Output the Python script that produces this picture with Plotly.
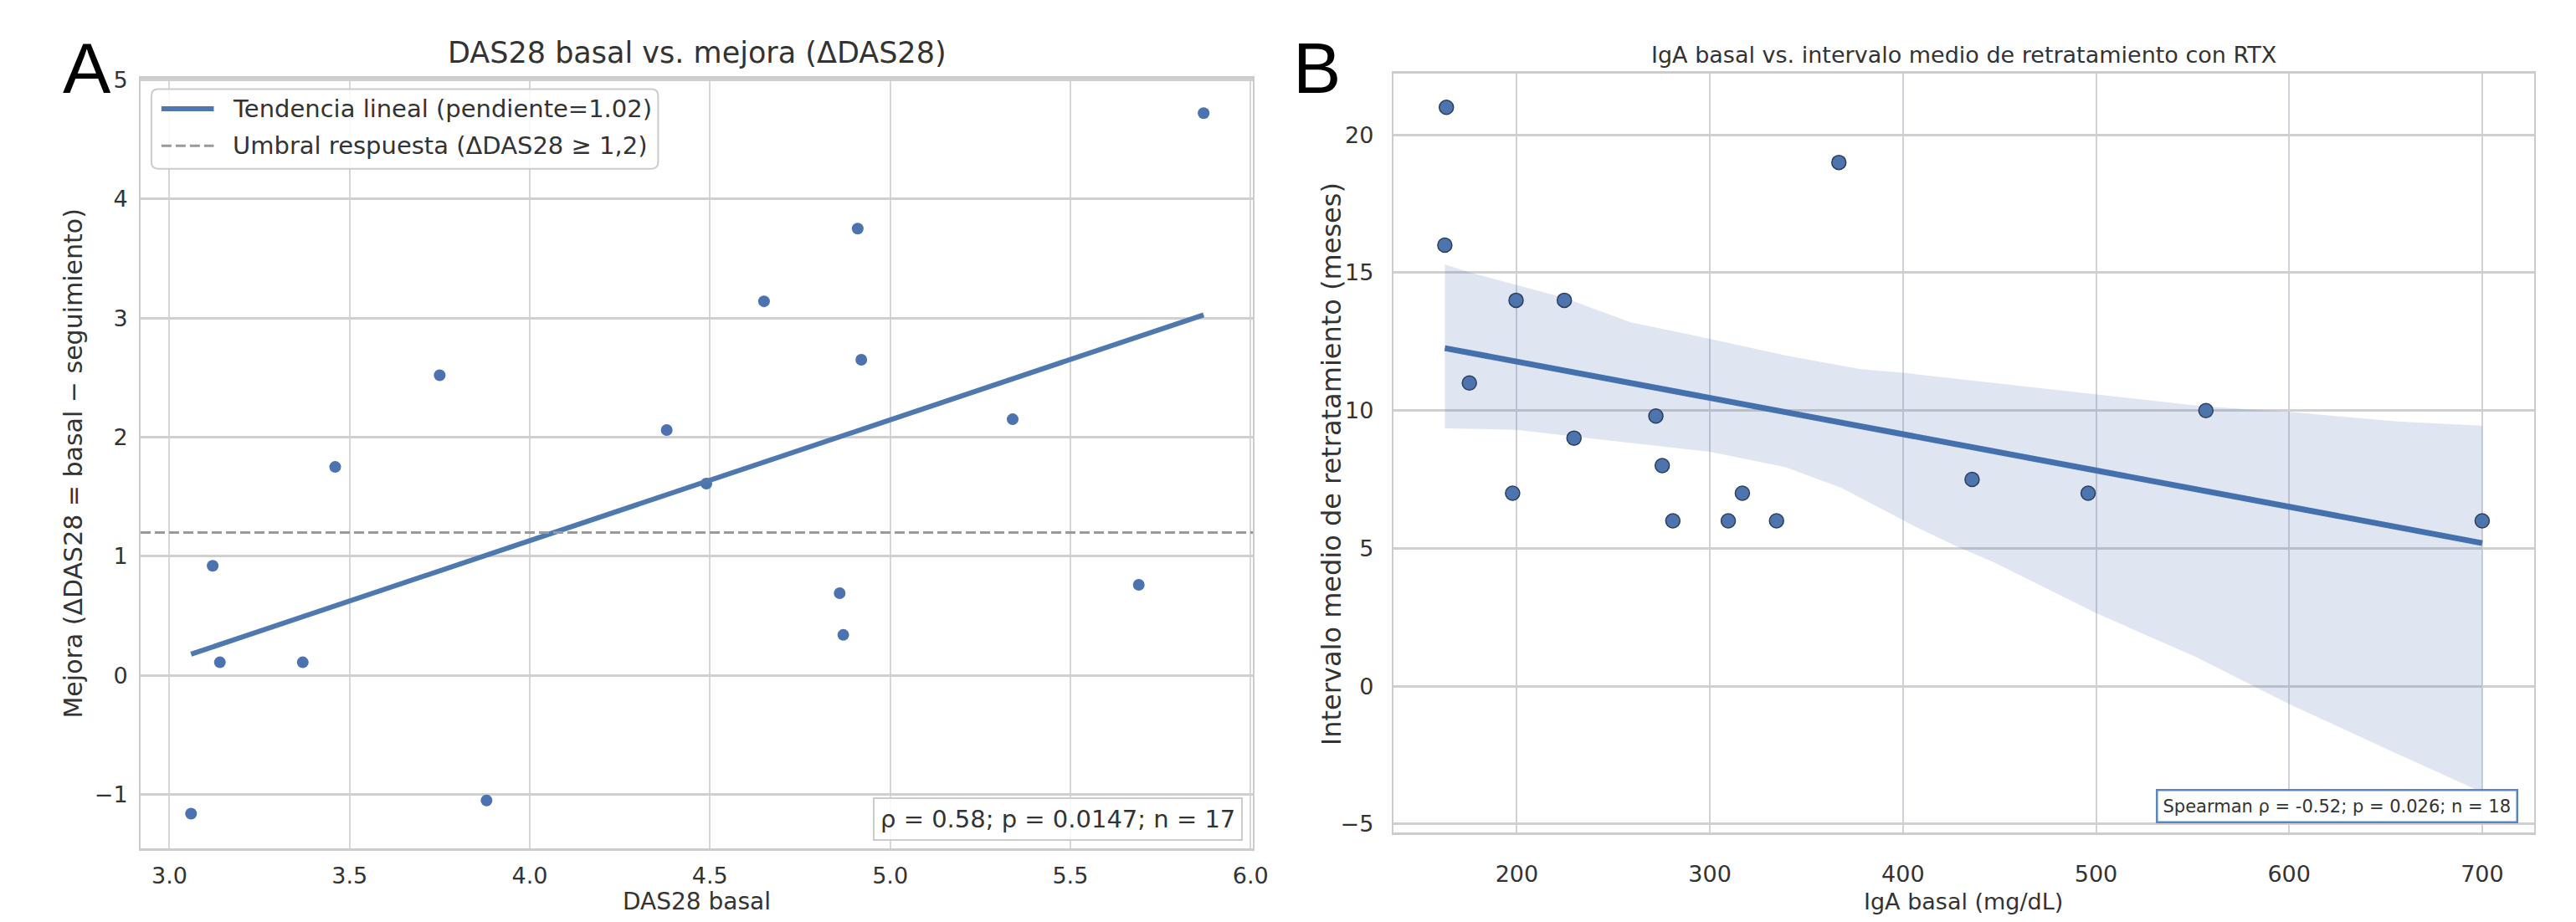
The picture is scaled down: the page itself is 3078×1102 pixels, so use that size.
import numpy as np
import plotly.graph_objects as go

# ---------------- Data ----------------
# Panel A: DAS28 basal vs mejora
das28_basal = [3.06, 3.12, 3.14, 3.37, 3.46, 3.75, 3.88, 4.38, 4.49, 4.65,
               4.86, 4.87, 4.91, 4.92, 5.34, 5.69, 5.87]
mejora_das28 = [-1.16, 0.92, 0.11, 0.11, 1.75, 2.52, -1.05, 2.06, 1.61, 3.14,
                0.69, 0.34, 3.75, 2.65, 2.15, 0.76, 4.72]
umbral_respuesta = 1.2

# Panel B: IgA basal vs intervalo medio de retratamiento
iga_basal = [163.5, 162.7, 175.4, 197.8, 199.6, 224.6, 229.6, 272.0, 275.3,
             280.8, 309.5, 316.8, 334.5, 366.8, 435.8, 495.9, 556.9, 700.0]
intervalo_meses = [21, 16, 11, 7, 14, 14, 9, 9.8, 8, 6, 6, 7, 6, 19, 7.5, 7, 10, 6]

# Confidence band of the regression in panel B
ci_upper_x = [162.7, 176, 200, 224, 259, 300, 339, 378, 400, 447, 485, 500, 556, 600, 656, 700]
ci_upper_y = [15.3, 15.0, 14.55, 14.1, 13.2, 12.6, 12.0, 11.5, 11.37, 11.0, 10.7, 10.6, 10.15, 9.95, 9.6, 9.45]
ci_lower_x = [162.7, 200, 243, 300, 339, 368, 406, 427, 447, 500, 552, 600, 656, 700]
ci_lower_y = [9.35, 9.3, 8.95, 8.5, 7.95, 7.2, 5.8, 5.1, 4.5, 2.65, 1.05, -0.65, -2.45, -3.85]

# Texts
title_a = "DAS28 basal vs. mejora (ΔDAS28)"
title_b = "IgA basal vs. intervalo medio de retratamiento con RTX"
xlabel_a = "DAS28 basal"
ylabel_a = "Mejora (ΔDAS28 = basal − seguimiento)"
xlabel_b = "IgA basal (mg/dL)"
ylabel_b = "Intervalo medio de retratamiento (meses)"
legend_trend = "Tendencia lineal (pendiente=1.02)"
legend_thresh = "Umbral respuesta (ΔDAS28 ≥ 1,2)"
stats_a = "ρ = 0.58; p = 0.0147; n = 17"
stats_b = "Spearman ρ = -0.52; p = 0.026; n = 18"

# ---------------- Figure ----------------
W, H = 3078, 1102
FONT = "DejaVu Sans"
TXT = "#333333"
BLUE = "#4c72b0"


def px(x):
    return x / W


def py(y):
    return 1 - y / H


def rrect(x0, y0, x1, y1, r):
    pts = [("M", x0 + r, y0), ("L", x1 - r, y0), ("Q", x1, y0, x1, y0 + r),
           ("L", x1, y1 - r), ("Q", x1, y1, x1 - r, y1), ("L", x0 + r, y1),
           ("Q", x0, y1, x0, y1 - r), ("L", x0, y0 + r), ("Q", x0, y0, x0 + r, y0)]
    out = []
    for p in pts:
        cmd = p[0]
        vals = p[1:]
        coords = []
        for i in range(0, len(vals), 2):
            coords.append(f"{px(vals[i]):.6f},{py(vals[i + 1]):.6f}")
        out.append(cmd + " ".join(coords))
    return " ".join(out) + " Z"


# regression lines from data
xa = np.array(das28_basal)
ya = np.array(mejora_das28)
sa, ia = np.polyfit(xa, ya, 1)
xa_line = np.array([xa.min(), xa.max()])
ya_line = sa * xa_line + ia

xb = np.array(iga_basal)
yb = np.array(intervalo_meses, dtype=float)
sb, ib = np.polyfit(xb, yb, 1)
xb_line = np.array([xb.min(), xb.max()])
yb_line = sb * xb_line + ib

fig = go.Figure()

# Panel A
fig.add_trace(go.Scatter(
    x=das28_basal, y=mejora_das28, mode="markers",
    marker=dict(color=BLUE, size=14, line=dict(width=0)),
    showlegend=False, xaxis="x", yaxis="y", hoverinfo="x+y"))
fig.add_trace(go.Scatter(
    x=xa_line, y=ya_line, mode="lines",
    line=dict(color="#4f79ae", width=6),
    name=legend_trend, showlegend=False,
    xaxis="x", yaxis="y"))
fig.add_shape(type="line", xref="x domain", x0=0, x1=1, yref="y",
              y0=umbral_respuesta, y1=umbral_respuesta,
              line=dict(color="#9a9a9a", width=3, dash="12px,5px"))

# Panel B
fig.add_trace(go.Scatter(
    x=ci_upper_x + ci_lower_x[::-1], y=ci_upper_y + ci_lower_y[::-1],
    mode="lines", fill="toself", fillcolor="rgba(76,114,176,0.18)",
    line=dict(width=0), showlegend=False, hoverinfo="skip",
    xaxis="x2", yaxis="y2"))
fig.add_trace(go.Scatter(
    x=xb_line, y=yb_line, mode="lines",
    line=dict(color="#4470ad", width=7),
    showlegend=False, xaxis="x2", yaxis="y2"))
fig.add_trace(go.Scatter(
    x=iga_basal, y=intervalo_meses, mode="markers",
    marker=dict(color="#4d74ad", size=17, line=dict(color="#2b3f5c", width=1.5)),
    showlegend=False, xaxis="x2", yaxis="y2", hoverinfo="x+y"))

grid_v = "#d6d6d6"
grid_h = "#d0d0d0"
edge = "#cccccc"

common = dict(showgrid=True, zeroline=False, showline=True, mirror=True,
              linecolor=edge, ticks="")

fig.update_layout(
    width=W, height=H, autosize=False,
    margin=dict(l=0, r=0, t=0, b=0),
    paper_bgcolor="white", plot_bgcolor="white",
    font=dict(family=FONT, color=TXT),
    showlegend=False,
    xaxis=dict(domain=[px(169), px(1506)], range=[2.92, 6.007], dtick=0.5,
               tick0=3.0, tickformat=".1f", gridcolor=grid_v, gridwidth=1.5,
               linewidth=3, tickfont=dict(size=27, color=TXT),
               ticklabelstandoff=6, anchor="y", **common),
    yaxis=dict(domain=[py(1018), py(81)], range=[-1.455, 5.012], dtick=1,
               gridcolor=grid_h, gridwidth=3, linewidth=2,
               tickfont=dict(size=27, color=TXT), ticklabelstandoff=8,
               anchor="x", **common),
    xaxis2=dict(domain=[px(1674.6), px(3046)], range=[136, 727], dtick=100,
                tick0=0, gridcolor="#cfd2d8", gridwidth=1.5, linewidth=3,
                tickfont=dict(size=27, color=TXT), ticklabelstandoff=24,
                anchor="y2", **common),
    yaxis2=dict(domain=[py(998), py(75)], range=[-5.3, 22.23], dtick=5,
                gridcolor=grid_h, gridwidth=3, linewidth=2,
                tickfont=dict(size=27, color=TXT), ticklabelstandoff=16,
                anchor="x2", **common),
)

# ---- legend of panel A (box, samples, labels) ----
fig.add_shape(type="path", xref="paper", yref="paper",
              path=rrect(182, 94, 791, 191, 8),
              fillcolor="rgba(255,255,255,0.85)",
              line=dict(color=edge, width=2))
fig.add_shape(type="line", xref="paper", yref="paper",
              x0=px(194), x1=px(257), y0=py(118), y1=py(118),
              line=dict(color="#4f79ae", width=6))
fig.add_shape(type="line", xref="paper", yref="paper",
              x0=px(194), x1=px(257), y0=py(163), y1=py(163),
              line=dict(color="#9a9a9a", width=3, dash="12px,5px"))
for txt, yy in ((legend_trend, 118), (legend_thresh, 163)):
    fig.add_annotation(text=txt, xref="paper", yref="paper",
                       x=px(278), y=py(yy), xanchor="left", yanchor="middle",
                       showarrow=False, font=dict(size=29, color=TXT))

annots = [
    dict(text=title_a, x=px(837.5), y=py(50), font=dict(size=35)),
    dict(text=title_b, x=px(2360), y=py(52.5), font=dict(size=27)),
    dict(text=xlabel_a, x=px(837.5), y=py(1082), font=dict(size=28)),
    dict(text=xlabel_b, x=px(2360), y=py(1082), font=dict(size=27)),
    dict(text=ylabel_a, x=px(88), y=py(549.5), font=dict(size=30), textangle=-90),
    dict(text=ylabel_b, x=px(1600), y=py(550), font=dict(size=32), textangle=-90),
    dict(text="A", x=px(105), y=py(68), font=dict(size=86, color="black",
                                               family="Liberation Sans")),
    dict(text="B", x=px(1583), y=py(68), font=dict(size=86, color="black",
                                                family="Liberation Sans")),
]
for a in annots:
    fig.add_annotation(xref="paper", yref="paper", showarrow=False,
                       xanchor="center", yanchor="middle", **a)

fig.add_annotation(text=stats_a, xref="paper", yref="paper",
                   x=px(1494), y=py(1008), xanchor="right", yanchor="bottom",
                   showarrow=False, font=dict(size=29, color=TXT),
                   bordercolor=edge, borderwidth=2, borderpad=7,
                   bgcolor="rgba(255,255,255,0.85)")
fig.add_annotation(text=stats_b, xref="paper", yref="paper",
                   x=px(3027), y=py(987), xanchor="right", yanchor="bottom",
                   showarrow=False, font=dict(size=21, color=TXT),
                   bordercolor="#5a86bf", borderwidth=2.5, borderpad=6,
                   bgcolor="rgba(255,255,255,0.9)")

# remove the default 8px page margin so the figure fills the window exactly
fig.write_html("out.html", config={"displayModeBar": False},
               post_script="document.body.style.margin='0px';")
